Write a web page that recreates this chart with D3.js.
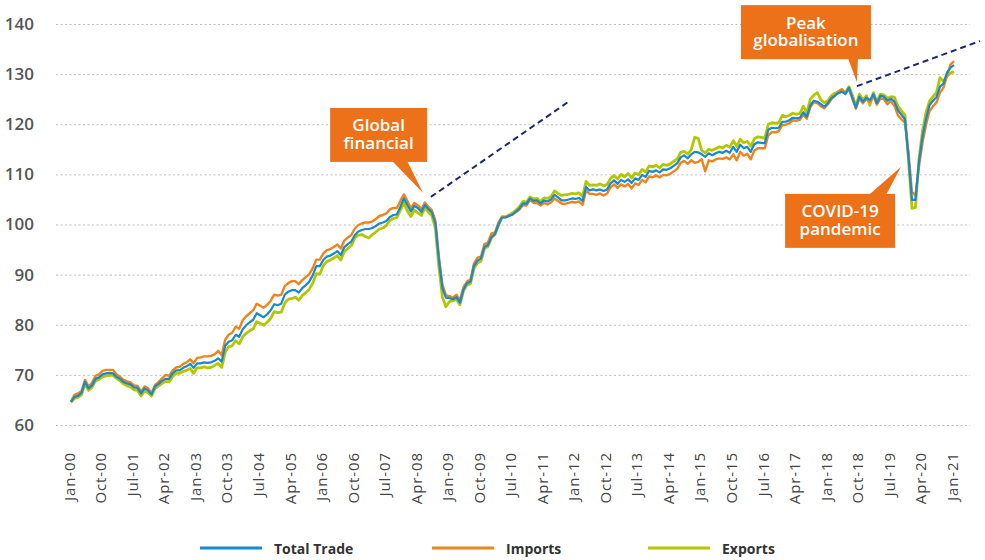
<!DOCTYPE html>
<html><head><meta charset="utf-8">
<script src="https://cdn.jsdelivr.net/npm/d3@7"></script>
<style>
html,body{margin:0;padding:0;background:#fff;}
svg{display:block;font-family:"Open Sans",sans-serif;}
</style></head><body>
<svg id="chart" width="985" height="560"></svg>
<script>
// ---------- DATA ----------
const totalTrade = [
64.6,65.6,65.8,66.4,68.6,67.3,67.9,69.2,69.5,70.1,70.3,70.4,
70.3,69.6,69.2,68.6,68.3,68.1,67.5,67.4,66.3,67.3,66.9,66.1,
67.7,68.2,68.8,69.2,69.2,70.3,70.9,70.9,71.4,71.7,72.2,71.4,
72.3,72.3,72.5,72.4,72.5,72.8,73.3,72.6,75.8,76.6,76.9,78.0,
77.6,79.1,79.9,80.5,81.0,82.3,81.9,81.5,82.1,82.9,84.1,83.9,
84.2,86.0,86.6,86.9,86.9,86.4,87.3,87.9,88.6,89.9,91.7,91.7,
92.9,93.6,93.8,94.2,94.7,93.9,95.5,96.1,96.6,97.9,98.6,98.9,
99.1,99.1,99.3,99.7,100.2,100.4,100.7,101.5,101.9,102.0,103.5,105.2,
103.9,102.6,103.7,103.3,102.5,103.9,103.1,102.4,100.2,92.9,87.3,85.4,
85.3,85.1,85.5,84.4,87.0,88.3,88.6,91.7,92.8,93.2,95.5,95.9,
97.5,98.1,100.0,101.4,101.4,101.7,102.0,102.6,103.2,104.2,104.1,105.2,
104.7,104.8,104.2,104.8,104.6,105.0,105.9,105.4,104.8,104.8,105.0,105.2,
105.1,105.3,104.7,107.5,106.8,107.0,106.8,107.0,106.7,107.0,108.2,108.8,
108.1,108.9,108.5,109.0,108.3,109.2,108.9,109.9,109.5,110.7,110.5,110.8,
110.4,111.0,110.9,111.2,111.7,112.2,113.4,113.8,113.2,114.0,114.5,114.4,
114.0,113.5,114.2,113.8,114.2,114.5,114.3,114.7,114.3,115.5,114.5,115.9,
115.2,115.5,114.5,116.0,116.4,116.3,116.2,118.9,119.3,119.2,119.3,120.5,
120.5,120.8,121.3,121.2,121.3,122.4,121.5,123.8,124.7,124.5,124.0,123.5,
124.2,125.2,125.7,126.2,126.5,126.0,127.3,125.3,123.3,125.5,124.5,125.3,
124.8,126.0,124.2,125.7,125.5,124.7,125.1,124.5,122.8,121.9,121.0,113.5,
104.9,104.9,112.5,117.5,121.0,123.8,124.7,125.4,127.5,128.1,130.3,131.3,
131.8];

const imports = [
64.7,66.0,66.3,66.8,69.0,67.7,68.4,69.8,70.1,70.8,71.0,71.0,
71.0,70.1,69.6,69.0,68.7,68.5,67.9,67.8,66.6,67.7,67.3,66.4,
68.0,68.6,69.3,70.0,69.8,70.9,71.5,71.6,72.2,72.5,73.1,72.3,
73.4,73.5,73.7,73.7,73.8,74.1,74.8,73.9,77.0,78.0,78.4,79.6,
79.2,80.9,81.7,82.3,82.9,84.2,83.8,83.4,84.0,84.8,86.0,85.8,
86.0,87.7,88.3,88.7,88.7,88.1,88.9,89.5,90.1,91.3,93.0,93.0,
94.2,94.9,95.1,95.5,96.0,95.2,96.8,97.4,97.9,99.2,99.9,100.2,
100.4,100.4,100.6,101.1,101.7,101.9,102.2,103.0,103.3,103.3,104.7,106.0,
104.7,103.2,104.3,103.8,103.1,104.4,103.5,102.8,100.8,93.6,88.0,85.9,
85.7,85.4,86.0,84.9,87.5,88.6,89.0,92.2,93.4,93.6,96.1,96.4,
98.2,98.4,100.4,101.6,101.5,101.8,102.0,102.5,103.0,103.9,103.8,104.9,
104.3,104.3,103.8,104.3,104.0,104.4,105.2,104.7,104.2,104.1,104.3,104.5,
104.4,104.6,103.9,106.8,106.1,106.1,105.9,106.2,105.8,106.2,107.4,108.0,
107.3,108.0,107.6,108.1,107.2,108.2,107.9,108.9,108.4,109.6,109.4,109.8,
109.4,109.9,109.8,110.1,110.6,111.1,112.3,112.7,112.1,112.8,112.3,112.5,
113.0,110.6,112.8,112.6,113.0,113.2,113.1,113.4,113.0,114.0,112.8,114.5,
113.7,114.1,113.0,114.7,115.2,115.2,115.2,117.8,118.4,118.4,118.6,119.8,
119.9,120.2,120.8,120.7,120.9,121.9,121.1,123.4,124.4,124.2,123.6,123.2,
124.0,125.0,125.6,126.6,127.0,126.2,127.0,125.1,123.1,125.1,124.2,125.0,
124.4,125.6,123.9,125.2,125.0,124.0,124.6,123.7,121.8,121.0,120.3,114.5,
106.5,105.8,111.5,116.3,119.8,122.6,123.6,124.3,126.3,127.3,129.6,131.9,
132.6];

const exportsData = [
64.5,65.3,65.5,66.0,68.2,66.9,67.5,68.8,69.1,69.6,69.8,69.9,
69.9,69.3,68.8,68.2,67.8,67.6,67.0,66.9,65.8,66.8,66.4,65.8,
67.3,67.8,68.3,68.7,68.6,69.7,70.3,70.3,70.7,70.9,71.3,70.3,
71.4,71.4,71.6,71.4,71.5,71.9,72.3,71.5,74.5,75.6,75.8,76.8,
76.2,77.6,78.3,78.8,79.2,80.6,80.3,79.9,80.5,81.3,82.6,82.4,
82.5,84.3,85.1,85.2,85.5,84.9,85.8,86.4,87.1,88.3,90.2,90.1,
91.8,92.6,92.9,93.3,93.8,92.9,94.6,95.2,95.8,97.3,97.9,98.0,
97.6,97.3,98.0,98.5,99.1,99.3,99.8,100.8,101.2,101.4,102.8,104.3,
102.7,101.6,102.9,102.3,101.8,103.3,102.5,101.7,99.2,91.5,85.5,83.6,
84.6,84.8,85.1,84.0,86.7,87.9,88.2,91.2,92.3,92.7,95.2,95.6,
97.3,98.0,99.8,101.4,101.5,101.9,102.3,102.9,103.6,104.6,104.5,105.5,
105.1,105.2,104.6,105.3,105.2,105.6,106.7,106.2,105.8,105.9,106.0,106.2,
106.1,106.3,105.6,108.6,107.8,107.9,107.8,108.1,107.7,108.0,109.2,109.8,
109.1,110.0,109.5,110.2,109.3,110.3,109.9,111.0,110.5,111.7,111.5,111.8,
111.3,112.0,111.8,112.1,112.6,113.1,114.4,114.6,114.1,114.9,117.4,117.2,
114.8,114.3,115.0,114.8,115.1,115.5,115.3,115.8,115.4,116.7,115.6,117.0,
116.3,116.6,115.6,117.1,117.5,117.4,117.2,120.0,120.3,120.2,120.3,121.8,
121.5,121.8,122.2,122.0,122.1,123.6,122.3,125.0,125.8,126.3,124.9,124.3,
124.7,125.7,126.2,126.5,126.7,126.3,127.5,125.8,123.6,126.0,124.9,125.7,
123.8,126.3,124.5,126.0,125.8,125.2,125.5,125.4,123.6,122.7,121.8,113.0,
103.2,103.4,113.0,118.6,122.3,124.6,125.5,126.3,129.3,128.6,129.6,130.2,
130.5];

const monthNames = ["Jan","Feb","Mar","Apr","May","Jun","Jul","Aug","Sep","Oct","Nov","Dec"];
const tickLabels = ["Jan-00","Oct-00","Jul-01","Apr-02","Jan-03","Oct-03","Jul-04","Apr-05","Jan-06","Oct-06","Jul-07","Apr-08","Jan-09","Oct-09","Jul-10","Apr-11","Jan-12","Oct-12","Jul-13","Apr-14","Jan-15","Oct-15","Jul-16","Apr-17","Jan-18","Oct-18","Jul-19","Apr-20","Jan-21"];
const yTicks = [60,70,80,90,100,110,120,130,140];
const seriesNames = ["Total Trade","Imports","Exports"];

// annotation anchors in data space: [month index, value]
const trendLines = [
  {from:[102.7,105.5], to:[141.8,124.4]},
  {from:[224.3,127.6], to:[259.4,136.6]}
];
const calloutTexts = [["Global","financial"],["Peak","globalisation"],["COVID-19","pandemic"]];
const calloutTips = [[100.5,106.3],[224.3,128.4],[236.9,111.5]];

// ---------- CHART ----------
const categories = totalTrade.map((d,i)=> monthNames[i%12] + "-" + String(Math.floor(i/12)).padStart(2,"0"));

const svg = d3.select("#chart");
const plot = {left:56, right:970, top:24, bottom:425};

const x = d3.scalePoint().domain(categories).range([71, 954]).padding(0);
const xIdx = i => x(categories[0]) + i * x.step();
const y = d3.scaleLinear().domain([60,140]).range([plot.bottom, plot.top]);

const colors = {"Total Trade":"#1689d0","Imports":"#f0841c","Exports":"#b3c600"};
const widths = {"Total Trade":2.2,"Imports":2.4,"Exports":2.8};
const seriesData = {"Total Trade":totalTrade,"Imports":imports,"Exports":exportsData};

// Y axis with gridlines
const yAxis = d3.axisLeft(y).tickValues(yTicks).tickSize(-(plot.right-plot.left)).tickPadding(22);
const gy = svg.append("g").attr("transform",`translate(${plot.left},0)`).call(yAxis);
gy.select(".domain").remove();
gy.selectAll(".tick line").attr("stroke","#bdbdbd").attr("stroke-width",1).attr("stroke-dasharray","2,2.5");
gy.selectAll(".tick text").attr("fill","#555").attr("font-size","17px").attr("font-weight",600)
  .attr("font-family","'Open Sans',sans-serif");

// X axis
const xAxis = d3.axisBottom(x).tickValues(tickLabels).tickSize(0);
const gx = svg.append("g").attr("transform",`translate(0,${plot.bottom})`).call(xAxis);
gx.select(".domain").remove();
gx.selectAll(".tick text")
  .attr("transform","rotate(-90)")
  .attr("text-anchor","end")
  .attr("x",-27).attr("y",-2).attr("dy","0.35em")
  .attr("fill","#444").attr("font-size","15px").attr("letter-spacing","0.9px")
  .attr("font-family","'Open Sans',sans-serif");

// Lines
const line = d3.line().x((d,i)=>x(categories[i])).y(d=>y(d));
["Exports","Imports","Total Trade"].forEach(name=>{
  svg.append("path").datum(seriesData[name])
    .attr("fill","none").attr("stroke",colors[name]).attr("stroke-width",widths[name])
    .attr("stroke-linejoin","round").attr("d",line);
});

// Trend dashed lines
trendLines.forEach(t=>{
  svg.append("line")
    .attr("x1",xIdx(t.from[0])).attr("y1",y(t.from[1]))
    .attr("x2",xIdx(t.to[0])).attr("y2",y(t.to[1]))
    .attr("stroke","#1c2a6c").attr("stroke-width",2).attr("stroke-dasharray","6,4");
});

// Callouts
const calloutLayout = [
  {box:[-93,-85,97,54], base:[-31,-16], side:"bottom"},
  {box:[-116,-77,130,54], base:[-9,1], side:"bottom"},
  {box:[-116,27,110,54], base:[-32,-15], side:"top"}
];
const orange = "#ec7118";
calloutTexts.forEach((lines,k)=>{
  const tx = xIdx(calloutTips[k][0]), ty = y(calloutTips[k][1]);
  const L = calloutLayout[k];
  const bx = tx + L.box[0], by = ty + L.box[1], bw = L.box[2], bh = L.box[3];
  const edgeY = L.side==="bottom" ? by+bh : by;
  const off = L.side==="bottom" ? -1 : 1;
  const g = svg.append("g");
  g.append("rect").attr("x",bx).attr("y",by).attr("width",bw).attr("height",bh).attr("fill",orange);
  g.append("path").attr("d",`M${tx+L.base[0]},${edgeY+off}L${tx+L.base[1]},${edgeY+off}L${tx},${ty}Z`).attr("fill",orange);
  const t = g.append("text").attr("text-anchor","middle")
    .attr("fill","#fff").attr("font-size","17px").attr("font-weight",600);
  lines.forEach((s,j)=>{
    t.append("tspan").attr("x",bx+bw/2).attr("y",by+23.5+j*17.5).text(s);
  });
});

// Legend
const legendX = [200, 432, 648];
const legendY = 548;
seriesNames.forEach((name,i)=>{
  const g = svg.append("g");
  g.append("line").attr("x1",legendX[i]).attr("x2",legendX[i]+62).attr("y1",legendY).attr("y2",legendY)
    .attr("stroke",colors[name]).attr("stroke-width",3);
  g.append("text").attr("x",legendX[i]+74).attr("y",legendY).attr("dominant-baseline","central")
    .attr("fill","#333").attr("font-size","14px").attr("font-weight",700).text(name);
});
</script>
</body></html>
